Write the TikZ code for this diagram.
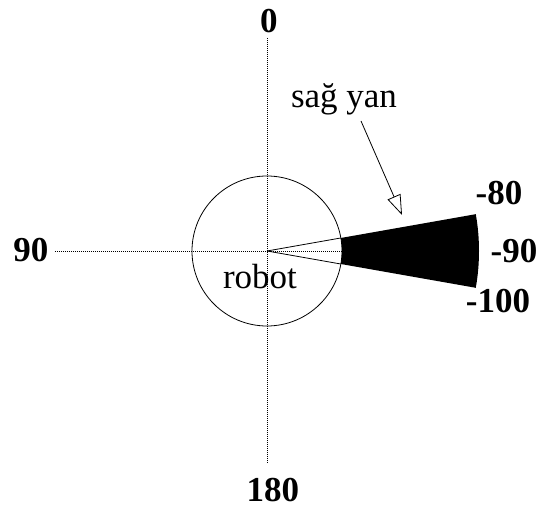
\documentclass[tikz,border=0pt]{standalone}
\usepackage{fontspec}
\setmainfont{Liberation Serif}
\usepackage{tikz}
\usetikzlibrary{positioning, arrows.meta}

\begin{document}
\begin{tikzpicture}[
  x=1pt, y=1pt,
  font=\fontsize{35}{40}\selectfont,
  axis/.style={dash pattern=on 1pt off 1pt, line width=0.8pt},
  deg/.style={anchor=base, font=\fontsize{35}{40}\selectfont\bfseries},
  txt/.style={anchor=base},
  wedge/.style={line width=0.8pt},
  pointer/.style={-{Triangle[open, length=20pt, width=14pt]}, line width=0.8pt},
]
  \useasboundingbox (-267,-259) rectangle (271,251);

  \coordinate (c) at (0,0);
  \coordinate (tail) at (94,130);
  \coordinate (tip) at (135,36);

  \draw[axis] (0,213) -- (0,-213);
  \draw[axis] (-212,0) -- (212,0);
  \node[circle, draw, line width=0.8pt, minimum size=150, inner sep=0pt] (robot) at (c) {};

  \draw[wedge] (c) -- (10:75);
  \draw[wedge] (c) -- (-10:75);
  \fill (-10:75) -- (-10:212) arc[start angle=-10, end angle=10, radius=212]
        -- (10:75) arc[start angle=10, end angle=-10, radius=75] -- cycle;

  \node[deg] (n0)   at (2,218)     {0};
  \node[deg] (n90)  at (-236,-11)  {90};
  \node[deg] (n180) at (6,-251)    {180};
  \node[deg] (m80)  at (232,46)    {-80};
  \node[deg] (m90)  at (247,-12)   {-90};
  \node[deg] (m100) at (231,-62)   {-100};

  \node[txt] (lbl) at (-7,-38) {robot};
  \node[txt] (sag) at (77,143) {sağ yan};

  \draw[pointer] (tail) -- (tip);
\end{tikzpicture}
\end{document}
